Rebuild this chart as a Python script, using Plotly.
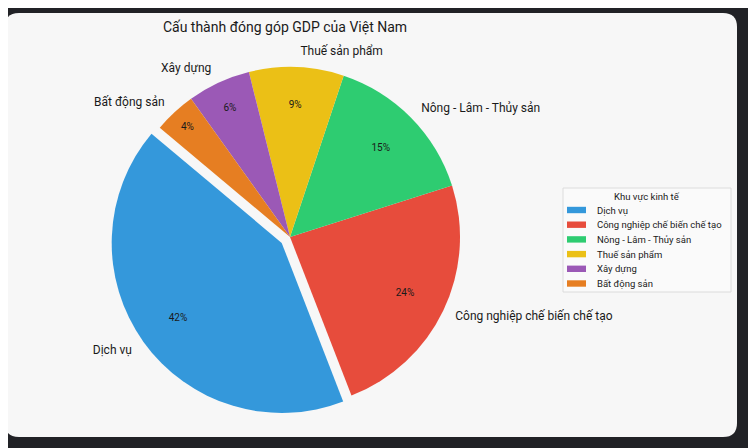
import plotly.graph_objects as go

# GDP share by economic sector (percent)
sectors = ["Dịch vụ", "Công nghiệp chế biến chế tạo", "Nông - Lâm - Thủy sản",
           "Thuế sản phẩm", "Xây dựng", "Bất động sản"]
shares = [42, 24, 15, 9, 6, 4]
colors = ["#3498db", "#e74c3c", "#2ecc71", "#ebc016", "#9b59b6", "#e67e22"]
explode = [0.06, 0, 0, 0, 0, 0]

W, H = 756, 448
font_family = "Roboto, 'Open Sans', sans-serif"
txt = "#1a1a1a"
rot = -201.2


def px_dom(cx, cy, half):
    # pixel centre / half size -> paper domain
    return dict(x=[(cx - half) / W, (cx + half) / W],
                y=[(H - cy - half) / H, (H - cy + half) / H])


cx, cy, rad = 282, 229, 170
lab_rad = rad * 1.055
pie_dom = px_dom(cx, cy, rad * (1 + max(explode)))
base = dict(labels=sectors, values=shares, sort=False,
            direction="counterclockwise", rotation=rot, showlegend=False)
clear = dict(colors=["rgba(0,0,0,0)"] * len(sectors), line=dict(width=0))

fig = go.Figure()

# coloured slices
fig.add_trace(go.Pie(**base, pull=explode,
                     marker=dict(colors=colors, line=dict(width=0)),
                     textinfo="none", domain=pie_dom,
                     hovertemplate="%{label}: %{percent:.0%}<extra></extra>"))

# percentages, placed in a ring so they sit ~0.75 r from centre
fig.add_trace(go.Pie(**base, pull=explode, marker=clear, hole=0.5,
                     texttemplate="%{percent:.0%}", textposition="inside",
                     insidetextorientation="horizontal",
                     insidetextfont=dict(size=10, color=txt, family=font_family),
                     domain=pie_dom, hoverinfo="skip"))

# sector names outside, one invisible pie per name so plotly never shoves
# labels around or draws connector lines
for i in range(len(sectors)):
    pos = ["outside" if j == i else "none" for j in range(len(sectors))]
    pull = explode if explode[i] > 0 else 0
    half = lab_rad * (1 + (max(explode) if explode[i] > 0 else 0))
    fig.add_trace(go.Pie(**base, pull=pull, marker=clear,
                         texttemplate="%{label}", textposition=pos,
                         outsidetextfont=dict(size=12, color=txt,
                                              family=font_family),
                         domain=px_dom(cx, cy, half), hoverinfo="skip"))

# rounded card behind the chart
r_x, r_y = 14 / W, 14 / H
x0, x1 = -3 / W, 729 / W
y0, y1 = 1 - 429 / H, 1 - 5 / H
card = (f"M {x0 + r_x},{y0} L {x1 - r_x},{y0} Q {x1},{y0} {x1},{y0 + r_y} "
        f"L {x1},{y1 - r_y} Q {x1},{y1} {x1 - r_x},{y1} "
        f"L {x0 + r_x},{y1} Q {x0},{y1} {x0},{y1 - r_y} "
        f"L {x0},{y0 + r_y} Q {x0},{y0} {x0 + r_x},{y0} Z")
shapes = [dict(type="path", path=card, xref="paper", yref="paper",
               fillcolor="#f7f7f7", line=dict(width=0), layer="below")]
annotations = []

# legend box drawn by hand (matplotlib-style compact rows)
lg_l, lg_r, lg_t, lg_b = 555, 723, 180, 284
shapes.append(dict(type="rect", xref="paper", yref="paper",
                   x0=lg_l / W, x1=lg_r / W, y0=1 - lg_b / H, y1=1 - lg_t / H,
                   fillcolor="#fafafa", line=dict(color="#dcdcdc", width=1),
                   layer="below"))
annotations.append(dict(text="Khu vực kinh tế", xref="paper", yref="paper",
                        x=(lg_l + lg_r) / 2 / W, y=1 - 188 / H,
                        xanchor="center", yanchor="middle", showarrow=False,
                        font=dict(size=9.5, color=txt)))
for i, (name, col) in enumerate(zip(sectors, colors)):
    yc = 202 + i * 14.7
    shapes.append(dict(type="rect", xref="paper", yref="paper",
                       x0=559 / W, x1=578 / W,
                       y0=1 - (yc + 3.2) / H, y1=1 - (yc - 3.2) / H,
                       fillcolor=col, line=dict(width=0)))
    annotations.append(dict(text=name, xref="paper", yref="paper",
                            x=587 / W, y=1 - yc / H, xanchor="left",
                            yanchor="middle", showarrow=False,
                            font=dict(size=9.5, color=txt)))

fig.update_layout(
    width=W, height=H,
    margin=dict(l=0, r=0, t=0, b=0, autoexpand=False),
    paper_bgcolor="#212226",
    font=dict(family=font_family, color=txt),
    shapes=shapes, annotations=annotations,
    title=dict(text="Cấu thành đóng góp GDP của Việt Nam",
               x=277 / W, xanchor="center", y=1 - 19 / H, yanchor="middle",
               font=dict(size=14, color=txt)),
    showlegend=False,
)

fig.write_html("out.html")
